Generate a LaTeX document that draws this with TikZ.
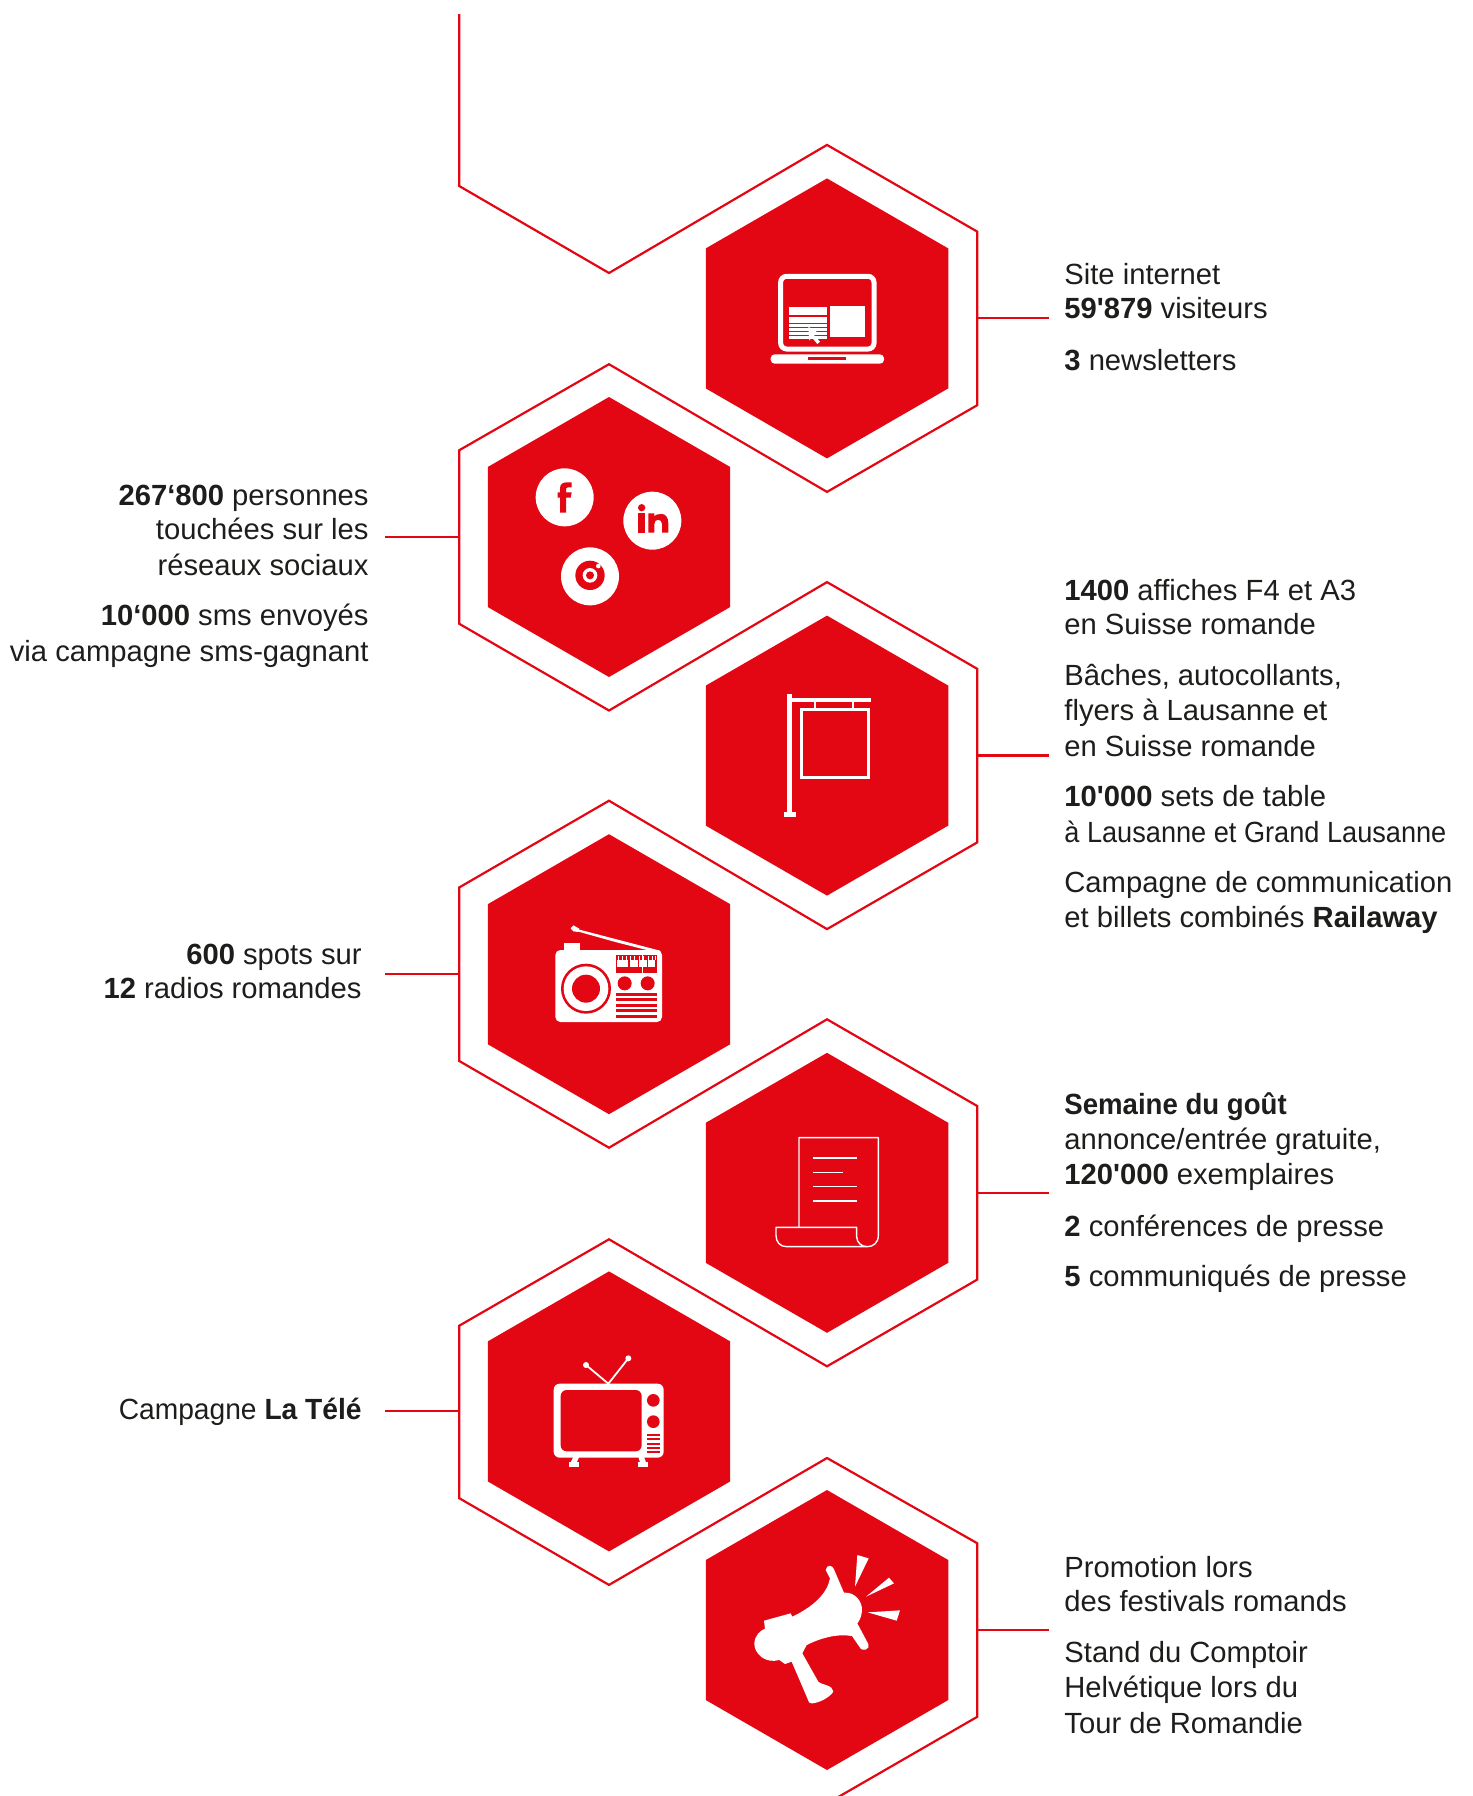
\documentclass[tikz,border=0pt]{standalone}
\usepackage{graphicx}
\usepackage{fontspec}
\usetikzlibrary{shapes.geometric}
\newfontfamily\txtfont{Liberation Sans}
\definecolor{hexred}{HTML}{E30613}
\definecolor{ink}{HTML}{1D1D1B}
\tikzset{
  hexa/.style={regular polygon,regular polygon sides=6,shape border rotate=30,fill=hexred,draw=none,inner sep=0pt,outer sep=0pt,minimum size=140pt},
  redline/.style={draw=hexred,line width=1.1pt,line join=miter},
  lab/.style={font=\txtfont\fontsize{14.6}{17}\selectfont,text=ink,inner sep=0pt,yshift=.5pt},
  labr/.style={lab,anchor=base west},
  labl/.style={lab,anchor=base east},
  icon/.style={x=.16667pt,y=-.16667pt},
  wf/.style={fill=white,draw=none},
  rf/.style={fill=hexred,draw=none},
}
\begin{document}
\begin{tikzpicture}[x=.5pt,y=-.5pt]
\useasboundingbox (0,0) rectangle (1473,1796);
\node[hexa] (h1) at (827,318.4) {};
\node[hexa] (h2) at (609,537) {};
\node[hexa] (h3) at (827,755.6) {};
\node[hexa] (h4) at (609,974.2) {};
\node[hexa] (h5) at (827,1192.8) {};
\node[hexa] (h6) at (609,1411.4) {};
\node[hexa] (h7) at (827,1630) {};
\begin{scope}
\clip (0,0) rectangle (1473,1796);
\draw[redline] (459.2,14)--(459.2,186)--(609,273)
 --(827,144.9)--(977.3,231.65)--(977.3,405.15)--(827,491.9)
 --(609,364.2)--(459.2,450.25)--(459.2,623.75)--(609,710.5)
 --(827,582.1)--(977.3,668.85)--(977.3,842.35)--(827,929.1)
 --(609,800.7)--(459.2,887.45)--(459.2,1060.95)--(609,1147.7)
 --(827,1019.3)--(977.3,1106.05)--(977.3,1279.55)--(827,1366.3)
 --(609,1239.3)--(459.2,1325.7)--(459.2,1498.15)--(609,1584.9)
 --(827,1458)--(977.3,1543.25)--(977.3,1716.75)--(827,1803.5);
\end{scope}
% connectors
\coordinate (e1) at (977.3,318.2); \coordinate (f1) at (1049,318.2);
\coordinate (e2) at (459.2,536.8);   \coordinate (f2) at (385,536.8);
\coordinate (e3) at (977.3,755.4); \coordinate (f3) at (1049,755.4);
\coordinate (e4) at (459.2,974);   \coordinate (f4) at (385,974);
\coordinate (e5) at (977.3,1192.6);\coordinate (f5) at (1049,1192.6);
\coordinate (e6) at (459.2,1411.2);\coordinate (f6) at (385,1411.2);
\coordinate (e7) at (977.3,1629.8);\coordinate (f7) at (1049,1629.8);
\foreach \i in {1,...,7}{\draw[redline] (e\i)--(f\i);}
% texts
\node[labr] (t11) at (1064,285.2) {Site internet};
\node[labr] (t12) at (1064,319.6) {\bfseries 59'879\mdseries{} visiteurs};
\node[labr] (t13) at (1064,371.1) {\bfseries 3\mdseries{} newsletters};
\node[labl] (t21) at (369,506.3) {\bfseries 267‘800\mdseries{} personnes};
\node[labl] (t22) at (369,540.6) {touchées sur les};
\node[labl] (t23) at (369,576.1) {réseaux sociaux};
\node[labl] (t24) at (369,626.5) {\bfseries 10‘000\mdseries{} sms envoyés};
\node[labl] (t25) at (369,662) {via campagne sms-gagnant};
\node[labr] (t31) at (1064,601.3) {\bfseries 1400\mdseries{} affiches F4 et A3};
\node[labr] (t32) at (1064,635.7) {en Suisse romande};
\node[labr] (t33) at (1064,686.1) {Bâches, autocollants,};
\node[labr] (t34) at (1064,721.6) {flyers à Lausanne et};
\node[labr] (t35) at (1064,757.1) {en Suisse romande};
\node[labr] (t36) at (1064,807.5) {\bfseries 10'000\mdseries{} sets de table};
\node[labr] (t37) at (1064,843) {\scalebox{.93}[1]{à Lausanne et Grand Lausanne}};
\node[labr] (t38) at (1064,893.4) {Campagne de communication};
\node[labr] (t39) at (1064,928.9) {et billets combinés \bfseries Railaway};
\node[labl] (t41) at (362,965.6) {\bfseries 600\mdseries{} spots sur};
\node[labl] (t42) at (362,999.9) {\bfseries 12\mdseries{} radios romandes};
\node[labr] (t51) at (1064,1115.6) {\scalebox{.945}[1]{\bfseries Semaine du goût}};
\node[labr] (t52) at (1064,1150) {annonce/entrée gratuite,};
\node[labr] (t53) at (1064,1185.5) {\bfseries 120'000\mdseries{} exemplaires};
\node[labr] (t54) at (1064,1237) {\bfseries 2\mdseries{} conférences de presse};
\node[labr] (t55) at (1064,1287.4) {\bfseries 5\mdseries{} communiqués de presse};
\node[labl] (t61) at (362,1420.3) {\scalebox{.965}[1]{Campagne \bfseries La Télé}};
\node[labr] (t71) at (1064,1578.4) {Promotion lors};
\node[labr] (t72) at (1064,1612.7) {des festivals romands};
\node[labr] (t73) at (1064,1663.1) {Stand du Comptoir};
\node[labr] (t74) at (1064,1698.6) {Helvétique lors du};
\node[labr] (t75) at (1064,1734.1) {Tour de Romandie};
% laptop
\begin{scope}[shift={(740,250)},icon]
\draw[white,line width=2.5pt,rounded corners=3pt] (122,79) rectangle (402,297);
\fill[white,rounded corners=2pt] (92,341)--(92,313)--(432,313)--(432,341)--cycle;
\fill[rf] (204,321) rectangle (318,330);
\fill[wf] (147,171) rectangle (261,195);
\fill[wf] (147,201) rectangle (261,219);
\fill[wf] (147,222) rectangle (261,231);
\fill[wf] (147,235) rectangle (261,243);
\fill[wf] (147,247) rectangle (261,255);
\fill[wf] (147,258) rectangle (261,267);
\fill[wf] (270,168) rectangle (375,261);
\fill[wf] (205,230)--(230,245)--(222,255)--(240,275)--(232,282)--(215,262)--(208,272)--cycle;
\end{scope}
% social
\begin{scope}[shift={(510,450)},icon]
\fill[wf] (164,142) circle[radius=87];
\fill[wf] (427,212) circle[radius=87];
\fill[wf] (240,379) circle[radius=87];
\fill[rf] (150,188)--(150,143)--(143,143)--(143,127)--(150,127)--(150,115) .. controls (150,103) and (158,97) .. (170,97)--(185,97)--(185,112)--(175,112) .. controls (170,112) and (168,114) .. (168,118)--(168,127)--(185,127)--(182,143)--(168,143)--(168,188)--cycle;
\fill[rf] (395,173) circle[radius=11];
\fill[rf] (385,190) rectangle (405,248);
\fill[rf] (415,190)--(433,190)--(433,199) .. controls (440,190) and (475,182) .. (475,220)--(475,248)--(456,248)--(456,222) .. controls (456,205) and (433,205) .. (433,222)--(433,248)--(415,248)--cycle;
\fill[rf] (240,376) circle[radius=44];
\fill[wf] (240,376) circle[radius=22];
\fill[rf] (240,376) circle[radius=12];
\fill[wf] (265,348) circle[radius=7];
\end{scope}
% sign
\begin{scope}[shift={(760,680)},icon]
\fill[wf] (81,42) rectangle (96,400);
\fill[wf] (72,396) rectangle (108,411);
\fill[wf] (96,54) rectangle (333,66);
\fill[wf] (162,66) rectangle (168,84);
\fill[wf] (276,66) rectangle (282,84);
\draw[white,line width=1.5pt] (124,88) rectangle (326,291);
\end{scope}
% radio
\begin{scope}[shift={(540,910)},icon]
\fill[wf] (72,99) rectangle (120,125);
\fill[wf,rounded corners=2.5pt] (46,120) rectangle (366,336);
\fill[wf] (92,55)--(100,46)--(118,56)--(115,66)--(100,64)--cycle;
\fill[wf] (115,58)--(230,88)--(360,122)--(360,130)--(230,97)--(112,64)--cycle;
\fill[rf] (138,236) circle[radius=75];
\fill[wf] (138,236) circle[radius=67];
\fill[rf] (138,236) circle[radius=42];
\fill[rf] (228,135) rectangle (351,189);
\fill[wf] (232,151) rectangle (265,171);
\fill[wf] (269,151) rectangle (294,171);
\fill[wf] (297,151) rectangle (320,171);
\fill[wf] (324,151) rectangle (346,171);
\foreach \q in {234,246,258,271,283,298,310,324,336,345}{\fill[wf] (\q,138) rectangle ++(3,13);}
\fill[wf] (306,135) rectangle (310,198);
\fill[rf] (254,220) circle[radius=21];
\fill[rf] (323,220) circle[radius=21];
\foreach \q in {249,265,282,298,315}{\fill[rf] (228,\q) rectangle (351,\q+9);}
\end{scope}
% scroll
\begin{scope}[shift={(760,1120)},icon]
\draw[white,line width=.7pt,line join=round] (117,322)--(117,53)--(355,53)--(355,346) .. controls (355,368) and (340,380) .. (322,380)--(80,380) .. controls (60,380) and (48,366) .. (48,346)--(48,322)--(290,322)--(290,350) .. controls (290,368) and (305,380) .. (322,380);
\draw[white,line width=.7pt] (159,114)--(291,114);
\draw[white,line width=.7pt] (159,157)--(250,157);
\draw[white,line width=.7pt] (159,200)--(291,200);
\draw[white,line width=.7pt] (159,243)--(291,243);
\end{scope}
% tv
\begin{scope}[shift={(540,1340)},icon]
\draw[white,line width=.9pt] (138,75)--(205,131)--(265,55);
\fill[wf] (138,75) circle[radius=9];
\fill[wf] (265,55) circle[radius=9];
\fill[wf,rounded corners=3pt] (41,131) rectangle (371,353);
\fill[rf,rounded corners=3pt] (62,150) rectangle (305,334);
\fill[rf] (340,181) circle[radius=19];
\fill[rf] (340,245) circle[radius=19];
\foreach \q in {282,295,308,321,334}{\fill[rf] (321,\q) rectangle (360,\q+6);}
\fill[wf] (100,350)--(118,350)--(110,367)--(92,367)--cycle;
\fill[wf] (295,350)--(312,350)--(318,367)--(300,367)--cycle;
\fill[wf] (87,367) rectangle (117,381);
\fill[wf] (294,367) rectangle (324,381);
\end{scope}
% megaphone
\begin{scope}[shift={(740,1540)},icon]
\fill[wf] (257,90) .. controls (260,72) and (278,75) .. (282,88)--(312,158) .. controls (345,155) and (368,185) .. (366,212) .. controls (364,232) and (358,243) .. (352,250)--(385,312) .. controls (392,328) and (366,338) .. (358,320)--(336,288) .. controls (290,280) and (240,295) .. (200,315)--(187,340)--(235,425) .. controls (245,435) and (280,435) .. (280,455) .. controls (270,472) and (235,490) .. (215,490) .. controls (205,490) and (205,480) .. (200,470)--(155,365)--(135,372)--(118,360) .. controls (75,372) and (42,340) .. (43,310) .. controls (45,285) and (60,272) .. (75,266)--(72,242)--(152,220)--(157,230) .. controls (220,200) and (262,160) .. (270,115)--cycle;
\fill[wf] (352,45)--(386,55)--(345,140)--cycle;
\fill[wf] (447,113)--(462,130)--(378,170)--cycle;
\fill[wf] (480,211)--(470,242)--(383,217)--cycle;
\end{scope}
\end{tikzpicture}
\end{document}
